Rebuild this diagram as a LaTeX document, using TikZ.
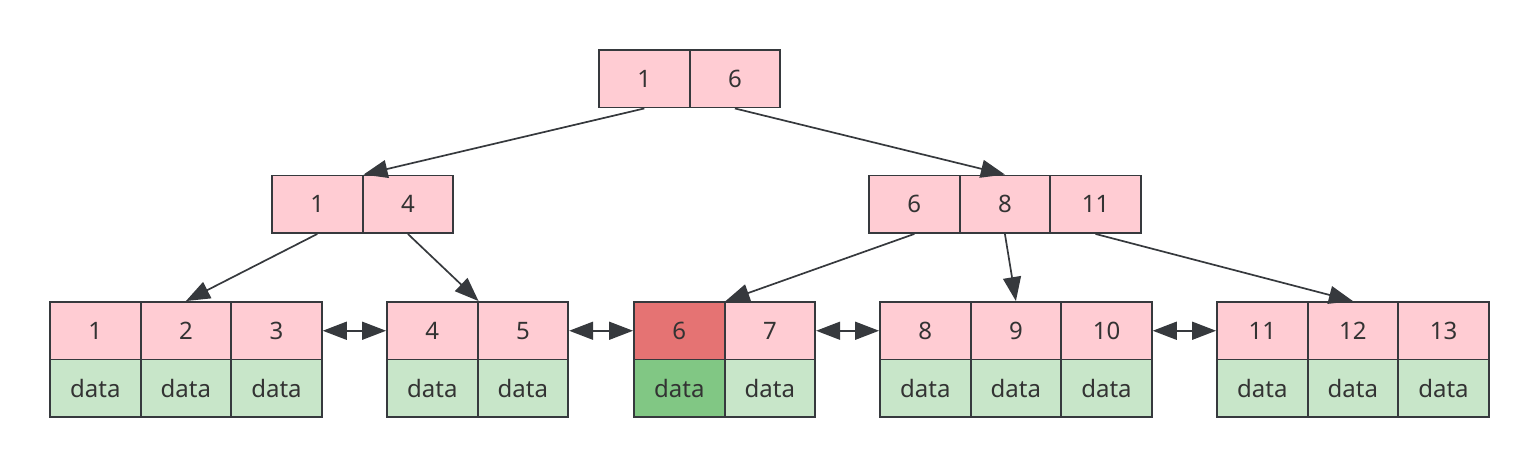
\documentclass[tikz,border=0pt]{standalone}
\usepackage{fontspec}
\setmainfont{Noto Sans}
\usetikzlibrary{arrows.meta}

\definecolor{keypink}{HTML}{FFCCD3}
\definecolor{valgreen}{HTML}{C8E6C9}
\definecolor{hitred}{HTML}{E57373}
\definecolor{hitgreen}{HTML}{81C784}
\definecolor{edgegray}{HTML}{36393D}
\definecolor{textgray}{HTML}{333333}

\tikzset{
  cell/.style={draw=edgegray, line width=1.9pt, minimum width=90.6pt, minimum height=57.5pt,
    inner sep=0pt, text=textgray, font=\fontsize{24}{28}\selectfont},
  key/.style={cell, fill=keypink},
  val/.style={cell, fill=valgreen},
  link/.style={draw=edgegray, line width=1.7pt, -{Triangle[length=24pt, width=18pt]}},
  sibling/.style={draw=edgegray, line width=1.7pt, {Triangle[length=24pt, width=18pt]}-{Triangle[length=24pt, width=18pt]}},
}

\begin{document}
\begin{tikzpicture}[x=1pt, y=-1pt]
\def\cw{90.6}
\def\ky{28.75}
\def\dy{86.25}
\useasboundingbox (0, 0) rectangle (1540, 468);

\begin{scope}[shift={(599, 50)}] % ROOT
\node [key] (r1) at (0.5*\cw, \ky) {1};
\node [key] (r6) at (1.5*\cw, \ky) {6};
\end{scope}

\begin{scope}[shift={(272, 175.5)}] % LEFT INNER
\node [key] (a1) at (0.5*\cw, \ky) {1};
\node [key] (a4) at (1.5*\cw, \ky) {4};
\end{scope}

\begin{scope}[shift={(869, 175.5)}] % RIGHT INNER
\node [key] (b6) at (0.5*\cw, \ky) {6};
\node [key] (b8) at (1.5*\cw, \ky) {8};
\node [key] (b11) at (2.5*\cw, \ky) {11};
\end{scope}

\begin{scope}[shift={(50, 302)}] % FIRST LEAF
\node [key] (k1) at (0.5*\cw, \ky) {1};
\node [key] (k2) at (1.5*\cw, \ky) {2};
\node [key] (k3) at (2.5*\cw, \ky) {3};
\node [val] (d1) at (0.5*\cw, \dy) {data};
\node [val] (d2) at (1.5*\cw, \dy) {data};
\node [val] (d3) at (2.5*\cw, \dy) {data};
\end{scope}

\begin{scope}[shift={(387, 302)}] % SECOND LEAF
\node [key] (k4) at (0.5*\cw, \ky) {4};
\node [key] (k5) at (1.5*\cw, \ky) {5};
\node [val] (d4) at (0.5*\cw, \dy) {data};
\node [val] (d5) at (1.5*\cw, \dy) {data};
\end{scope}

\begin{scope}[shift={(634, 302)}] % THIRD LEAF (hit)
\node [key, fill=hitred] (k6) at (0.5*\cw, \ky) {6};
\node [key] (k7) at (1.5*\cw, \ky) {7};
\node [val, fill=hitgreen] (d6) at (0.5*\cw, \dy) {data};
\node [val] (d7) at (1.5*\cw, \dy) {data};
\end{scope}

\begin{scope}[shift={(880, 302)}] % FOURTH LEAF
\node [key] (k8) at (0.5*\cw, \ky) {8};
\node [key] (k9) at (1.5*\cw, \ky) {9};
\node [key] (k10) at (2.5*\cw, \ky) {10};
\node [val] (d8) at (0.5*\cw, \dy) {data};
\node [val] (d9) at (1.5*\cw, \dy) {data};
\node [val] (d10) at (2.5*\cw, \dy) {data};
\end{scope}

\begin{scope}[shift={(1217, 302)}] % FIFTH LEAF
\node [key] (k11) at (0.5*\cw, \ky) {11};
\node [key] (k12) at (1.5*\cw, \ky) {12};
\node [key] (k13) at (2.5*\cw, \ky) {13};
\node [val] (d11) at (0.5*\cw, \dy) {data};
\node [val] (d12) at (1.5*\cw, \dy) {data};
\node [val] (d13) at (2.5*\cw, \dy) {data};
\end{scope}

% tree pointers
\draw [link] (r1.south) -- (a1.north east);
\draw [link] (r6.south) -- (b8.north);
\draw [link] (a1.south) -- (k2.north);
\draw [link] (a4.south) -- (k4.north east);
\draw [link] (b6.south) -- (k6.north east);
\draw [link] (b8.south) -- (k9.north);
\draw [link] (b11.south) -- (k12.north);

% leaf chain
\draw [sibling] (k3.east) -- (k4.west);
\draw [sibling] (k5.east) -- (k6.west);
\draw [sibling] (k7.east) -- (k8.west);
\draw [sibling] (k10.east) -- (k11.west);
\end{tikzpicture}
\end{document}
